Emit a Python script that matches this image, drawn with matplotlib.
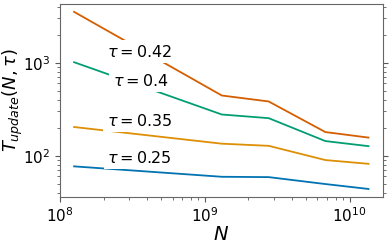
import numpy as np
import matplotlib
matplotlib.use('Agg')
import matplotlib.pyplot as plt

N = [1.25e8, 1.31e9, 2.76e9, 6.8e9, 1.35e10]
t_025 = [77, 59.5, 59, 49.7, 44]
t_035 = [204, 135, 128, 90, 82]
t_040 = [1015, 278, 254, 144, 127]
t_042 = [3530, 445, 384, 180, 157]

taus = ['0.25', '0.35', '0.4', '0.42']
series = [t_025, t_035, t_040, t_042]
colors = ['#0173B2', '#DE8F05', '#029E73', '#D55E00']
# label positions (data coords) for the tau annotations
label_pos = [(3.55e8, 95), (3.55e8, 238), (3.6e8, 640), (3.55e8, 1310)]

fig = plt.figure(figsize=(3.9, 2.43), dpi=100)
ax = fig.add_axes([0.154, 0.189, 0.828, 0.795])

for tau, y, c, (lx, ly) in zip(taus, series, colors, label_pos):
    ax.plot(N, y, color=c, linewidth=1.3)
    ax.text(lx, ly, r'$\tau = %s$' % tau, fontsize=11.5, ha='center', va='center',
            bbox=dict(facecolor='white', edgecolor='none', pad=2.5))

ax.set_xscale('log')
ax.set_yscale('log')
ax.set_xlim(1e8, 1.7e10)
ax.set_ylim(36, 4300)
ax.set_xlabel(r'$N$', fontsize=14, labelpad=0)
ax.set_ylabel(r'$T_{update}(N,\tau)$', fontsize=13)
ax.yaxis.set_label_coords(-0.11, 0.5)
ax.tick_params(which='both', direction='out', right=True, labelsize=11, color='0.35')
ax.tick_params(which='major', length=3.5)
ax.tick_params(which='minor', length=2)
for s in ax.spines.values():
    s.set_color('0.4')

plt.savefig('out.png', dpi=100)
